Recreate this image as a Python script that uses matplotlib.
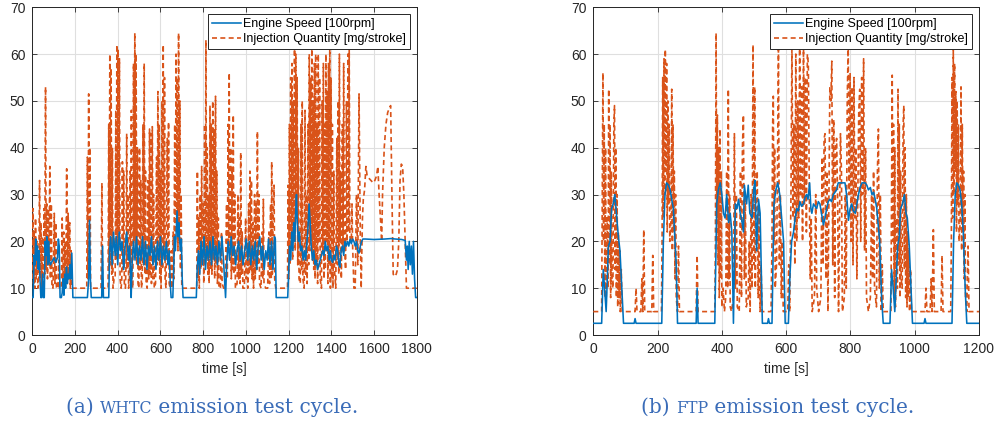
import matplotlib
matplotlib.use("Agg")
import matplotlib.pyplot as plt

# ---------------- data ----------------
whtc_speed = [
    (0, 8), (4, 8), (8, 17), (12, 15), (16, 20.5), (20, 16), (24, 19), (28, 14), (32, 18), (36, 12),
    (40, 8), (44, 8), (48, 13), (52, 8), (56, 8), (60, 20), (64, 17), (68, 21), (72, 15), (76, 20),
    (80, 16), (85, 15), (90, 15.5), (96, 16), (102, 16.5), (110, 15.5), (118, 16.5), (122, 20.5),
    (126, 19), (130, 8), (136, 8), (140, 9), (144, 12), (148, 8.5), (152, 13), (156, 10), (160, 14.5),
    (164, 11), (168, 13), (172, 12), (176, 15), (180, 12), (185, 17.5), (190, 8), (258, 8), (264, 12),
    (268, 24.5), (272, 12), (276, 8), (325, 8), (329, 19), (333, 8),
    (358, 8), (362, 18), (367, 21), (374, 15), (380, 22), (388, 17), (394, 21), (400, 15), (407, 22),
    (414, 18), (420, 20), (428, 14), (435, 19), (442, 22), (450, 16), (456, 19), (460, 12), (463, 8),
    (467, 15), (474, 20), (481, 16), (488, 21), (495, 15), (502, 19), (509, 16), (516, 21), (523, 15),
    (530, 20), (537, 14), (544, 19), (551, 17), (558, 21), (565, 15), (572, 19), (579, 14), (586, 20),
    (593, 16), (600, 21), (607, 15), (614, 19), (621, 16), (628, 20), (635, 15), (641, 18), (646, 11),
    (650, 8), (658, 8), (662, 14), (666, 21), (670, 18), (674, 22), (678, 26.5), (682, 21), (686, 24),
    (690, 20), (694, 18), (698, 20.5), (702, 12), (706, 8),
    (768, 8), (772, 14), (778, 18), (784, 13), (790, 20), (797, 15), (804, 21), (811, 14), (818, 19),
    (825, 16), (832, 20), (839, 15), (846, 21), (853, 16), (860, 19), (867, 15), (874, 20), (881, 16),
    (888, 21), (894, 17), (900, 12), (905, 8),
    (910, 15), (917, 20), (924, 16), (931, 21), (938, 17), (945, 19), (952, 15), (959, 18), (966, 20),
    (973, 16), (980, 19), (987, 15), (994, 18), (1002, 20.5), (1009, 16), (1016, 20), (1023, 15),
    (1030, 19), (1037, 16), (1044, 20), (1051, 14), (1058, 19), (1065, 21), (1072, 16), (1079, 19),
    (1086, 14), (1093, 18), (1100, 16), (1106, 20.5), (1113, 15), (1120, 20), (1127, 14), (1134, 21),
    (1138, 20.5), (1142, 8),
    (1196, 8), (1200, 13), (1205, 19), (1210, 16), (1215, 22), (1220, 18), (1224, 24), (1229, 20),
    (1233, 26), (1237, 30), (1241, 24), (1246, 20), (1251, 22), (1256, 18), (1262, 19), (1268, 16),
    (1274, 18), (1280, 16), (1286, 20), (1291, 23), (1296, 28), (1301, 24), (1306, 19), (1312, 16),
    (1318, 18), (1324, 15), (1330, 16), (1336, 14), (1342, 15), (1348, 16), (1354, 17), (1360, 18),
    (1366, 17), (1372, 20), (1378, 18), (1384, 19), (1390, 16), (1396, 18), (1400, 16), (1406, 15.5),
    (1412, 17), (1418, 16), (1424, 19), (1430, 18), (1436, 15), (1440, 14.5), (1446, 18), (1452, 19),
    (1458, 17), (1464, 20), (1470, 19), (1476, 20), (1482, 19), (1488, 20.5), (1494, 19.5), (1500, 20.5),
    (1506, 20), (1512, 19), (1518, 20), (1524, 18), (1530, 17.5), (1536, 19), (1542, 20), (1548, 20.5),
    (1560, 20.5), (1600, 20.4), (1650, 20.5), (1680, 20.6), (1700, 20.5), (1730, 20.4), (1746, 20.2),
    (1752, 16), (1756, 19), (1760, 14), (1765, 20), (1770, 15), (1775, 19), (1780, 13), (1785, 20),
    (1790, 12), (1795, 8), (1800, 8),
]

whtc_injection = [
    (0, 12), (3, 27), (6, 11), (9, 22), (12, 10), (15, 25), (18, 12), (22, 20), (26, 10), (30, 11),
    (34, 33), (37, 12), (41, 24), (44, 10), (48, 21), (51, 11), (55, 27), (58, 13), (62, 53),
    (65, 14), (68, 28), (71, 12), (75, 27), (78, 15), (82, 36), (85, 12), (89, 28), (92, 10), (97, 10),
    (103, 26), (106, 11), (110, 24), (113, 10), (120, 10), (124, 16), (127, 10),
    (136, 10), (140, 25), (143, 11), (147, 22), (150, 10), (154, 20), (157, 12), (161, 35.5),
    (164, 11), (168, 26), (171, 12), (175, 24), (178, 10), (182, 18), (185, 10), (255, 10),
    (258, 38), (261, 12), (264, 51.5), (267, 15), (270, 40), (273, 10), (322, 10), (326, 32.5), (329, 10),
    (355, 10), (358, 45), (360, 14), (363, 60), (366, 15), (369, 57), (372, 13), (375, 40), (378, 10),
    (383, 12), (388, 12), (391, 48), (393, 16), (396, 62), (399, 18), (402, 61), (405, 20), (408, 59),
    (411, 12), (416, 10), (419, 12), (422, 37), (425, 14), (428, 35), (431, 11), (436, 10), (439, 15),
    (442, 43), (445, 14), (448, 30), (451, 10), (455, 12), (458, 35), (461, 12), (464, 48), (467, 11),
    (471, 10), (474, 58), (477, 20), (480, 64.5), (483, 18), (486, 60), (489, 15), (492, 40), (495, 11),
    (499, 10), (502, 40), (505, 14), (508, 33), (511, 10), (515, 12), (518, 45), (521, 15), (524, 58),
    (527, 13), (530, 35), (533, 11), (538, 10), (542, 33), (545, 12), (549, 44), (552, 13), (555, 43),
    (558, 11), (562, 44.5), (565, 12), (568, 30), (571, 10), (577, 11), (582, 38), (585, 15), (588, 52),
    (591, 16), (594, 45), (597, 12), (600, 35), (603, 10), (607, 50), (610, 14), (613, 62), (616, 18),
    (619, 55), (622, 12), (626, 10), (632, 42), (635, 15), (638, 45.5), (641, 11), (646, 10), (651, 18),
    (654, 10), (660, 22), (663, 12), (667, 45), (670, 20), (673, 60), (676, 25), (679, 55), (682, 18),
    (685, 64.5), (688, 20), (691, 50), (694, 14), (697, 30), (700, 10), (770, 10),
    (773, 35), (776, 12), (779, 25), (782, 10), (786, 30), (789, 14), (793, 36), (796, 15), (800, 28),
    (803, 11), (807, 45), (810, 15), (813, 63), (816, 18), (819, 40), (822, 13), (825, 30), (828, 11),
    (832, 49), (835, 14), (838, 45), (841, 13), (845, 50), (848, 16), (851, 44), (854, 12), (858, 51),
    (861, 15), (864, 35), (867, 11), (871, 25), (874, 10), (881, 10), (886, 22), (889, 11),
    (896, 10), (903, 10), (910, 28), (913, 12), (917, 45), (920, 18), (922, 56),
    (925, 16), (929, 40), (932, 12), (936, 35), (939, 14), (941, 47), (944, 13), (948, 30), (951, 10),
    (959, 11), (963, 30), (966, 12), (970, 25), (973, 11), (976, 39), (979, 13), (983, 22),
    (986, 10), (993, 10), (999, 25), (1002, 12), (1006, 20), (1009, 10), (1013, 28),
    (1016, 13), (1019, 35), (1022, 14), (1026, 33), (1029, 12), (1033, 24), (1036, 10), (1041, 30),
    (1044, 12), (1048, 28), (1051, 14), (1054, 43.5), (1057, 15), (1061, 30), (1064, 11),
    (1071, 10), (1076, 22), (1079, 12), (1082, 29), (1085, 11), (1093, 10),
    (1102, 10), (1108, 22), (1111, 11), (1116, 28), (1119, 12), (1121, 37), (1124, 13), (1128, 25),
    (1132, 32), (1135, 12), (1140, 10), (1195, 10),
    (1198, 32), (1201, 12), (1204, 45), (1207, 15), (1210, 55), (1213, 20), (1216, 58), (1219, 16),
    (1222, 50), (1225, 22), (1228, 62), (1231, 18), (1234, 60), (1237, 25), (1240, 55), (1243, 15),
    (1246, 40), (1249, 12), (1255, 11), (1258, 45), (1261, 14), (1264, 50), (1267, 12),
    (1273, 10), (1277, 48), (1280, 13), (1284, 30), (1287, 11), (1291, 45), (1294, 15),
    (1297, 60), (1300, 18), (1303, 55), (1306, 20), (1309, 62), (1312, 16), (1315, 50), (1318, 14),
    (1321, 58), (1324, 12), (1327, 60), (1330, 15), (1333, 45), (1336, 11), (1339, 60), (1342, 20),
    (1345, 55), (1348, 12), (1354, 10), (1357, 50), (1360, 18), (1363, 58), (1366, 12),
    (1369, 45), (1372, 14), (1375, 60), (1378, 20), (1381, 52), (1384, 11), (1387, 58), (1390, 15),
    (1393, 62), (1396, 10), (1399, 55), (1402, 12), (1405, 45), (1408, 10), (1412, 35), (1415, 14),
    (1421, 10), (1426, 42), (1429, 15), (1432, 50), (1435, 13), (1438, 60), (1441, 20),
    (1444, 35), (1447, 12), (1452, 45), (1455, 18), (1458, 58), (1461, 22), (1467, 14),
    (1471, 50), (1474, 20), (1478, 60), (1481, 22), (1484, 61), (1487, 21), (1494, 20),
    (1497, 28), (1500, 19), (1506, 10), (1512, 10), (1518, 30), (1524, 15), (1530, 51.5), (1536, 20),
    (1540, 10), (1546, 25), (1550, 29), (1556, 31), (1562, 36), (1568, 34), (1576, 33.5), (1586, 33),
    (1596, 32.5), (1604, 33), (1612, 34), (1618, 36), (1624, 30), (1630, 25), (1636, 20), (1640, 30),
    (1648, 40), (1656, 45), (1664, 47.5), (1672, 48.5), (1678, 49), (1684, 30), (1690, 13),
    (1696, 12.5), (1704, 13), (1710, 14), (1716, 20), (1722, 33), (1728, 36.5), (1734, 36), (1740, 30),
    (1746, 20), (1752, 10), (1800, 10),
]

ftp_speed = [
    (0, 2.5), (26, 2.5), (31, 14), (37, 8), (40, 5), (47, 19), (52, 20), (57, 27), (62, 28), (67, 30),
    (73, 25), (78, 21), (83, 18), (88, 11), (94, 2.5), (127, 2.5), (130, 3.5), (133, 2.5), (213, 2.5),
    (218, 20), (223, 30), (228, 32.5), (234, 32), (239, 31), (244, 29), (249, 27), (258, 15), (262, 2.5),
    (320, 2.5), (323, 10), (326, 2.5), (378, 2.5), (384, 28), (389, 31), (395, 32.5), (400, 30),
    (405, 26), (410, 25), (415, 30), (421, 24), (426, 26), (431, 22), (436, 2.5), (442, 28), (447, 27),
    (452, 29), (457, 26), (462, 24.5), (467, 22), (470, 32), (477, 28), (482, 32), (487, 26), (494, 25),
    (499, 31), (503, 33), (508, 18), (514, 29), (519, 26), (522, 16), (526, 2.5), (542, 2.5),
    (545, 3.5), (548, 2.5), (556, 2.5), (562, 28), (568, 31), (574, 32.5), (580, 30), (586, 25),
    (592, 20), (597, 2.5), (607, 2.5), (612, 13), (617, 20), (623, 22), (628, 25), (633, 27),
    (638, 26.5), (643, 28.5), (648, 27.5), (654, 28), (659, 29.5), (664, 30), (668, 29), (673, 32.5),
    (677, 27), (680, 26), (685, 28), (690, 27.5), (695, 27), (700, 28.5), (705, 28), (710, 26),
    (716, 23.5), (721, 25), (726, 27), (731, 28.5), (736, 29), (741, 28.5), (747, 30), (752, 30.5),
    (757, 31), (762, 32.5), (770, 32.5), (783, 32.5), (788, 30), (794, 24.5), (799, 27), (804, 28),
    (809, 26.5), (815, 26), (820, 28), (825, 30), (830, 31.5), (836, 32.5), (846, 32.5), (851, 32),
    (856, 31), (862, 31.5), (867, 30), (872, 30.5), (877, 29), (882, 27), (886, 24), (891, 20),
    (897, 8), (902, 2.5), (923, 2.5), (928, 14), (933, 10), (938, 5), (947, 19), (952, 21), (956, 27),
    (962, 28), (968, 30), (973, 26), (977, 25), (983, 19), (988, 11), (993, 2.5), (1029, 2.5),
    (1032, 3.5), (1035, 2.5), (1116, 2.5), (1121, 20), (1126, 30), (1131, 32.5), (1136, 32),
    (1141, 31), (1146, 28), (1151, 22), (1157, 10), (1162, 2.5), (1200, 2.5),
]

ftp_injection = [
    (0, 5), (26, 5), (28, 30), (30, 56), (32, 20), (34, 45), (36, 8), (38, 40), (40, 6), (43, 25),
    (46, 10), (48, 52.5), (50, 15), (52, 45), (54, 8), (56, 35), (58, 12), (61, 10),
    (64, 45), (66, 49), (68, 14), (70, 40), (72, 8), (74, 30), (76, 6), (78, 22), (80, 8), (82, 18),
    (84, 5), (87, 14), (90, 5), (130, 5), (133, 10), (136, 5), (148, 5), (151, 12),
    (154, 5), (157, 22.5), (160, 5), (182, 5), (185, 17), (188, 5), (212, 5),
    (214, 20), (216, 55), (218, 25), (220, 59), (222, 30), (224, 61), (226, 35), (228, 58), (230, 22),
    (232, 50), (234, 28), (236, 45), (238, 20), (242, 25), (244, 52.5), (246, 18), (248, 45),
    (250, 22), (252, 35), (254, 12), (256, 30), (258, 8), (262, 5), (265, 19), (268, 5),
    (320, 5), (323, 17), (326, 5), (378, 5),
    (380, 20), (382, 64.5), (384, 25), (386, 47), (388, 15), (390, 40), (392, 8), (394, 44), (396, 12),
    (398, 35), (400, 6), (404, 10), (408, 5), (412, 8), (415, 35),
    (418, 10), (420, 52.5), (422, 12), (424, 30), (426, 6), (430, 5), (436, 8),
    (439, 43), (442, 10), (445, 30), (448, 6), (454, 5), (458, 35), (461, 8), (464, 40),
    (467, 47), (470, 12), (473, 30), (476, 6), (482, 8), (485, 20), (488, 5), (491, 30),
    (494, 10), (497, 62), (500, 15), (502, 53), (504, 10), (507, 30), (510, 35), (513, 8), (516, 27),
    (519, 5), (522, 15), (525, 5), (553, 5),
    (556, 20), (558, 45), (560, 51), (562, 20), (564, 40), (566, 10), (570, 15), (573, 35),
    (576, 61), (579, 15), (582, 30), (585, 8), (588, 20), (591, 5), (605, 5),
    (608, 15), (611, 5), (615, 30), (618, 62), (621, 25), (624, 45), (627, 15), (630, 60), (633, 20),
    (636, 50), (639, 25), (642, 63), (645, 30), (648, 53), (651, 20), (654, 62), (657, 28), (660, 55),
    (663, 22), (666, 60), (669, 58), (672, 31), (675, 12), (678, 25), (681, 5), (688, 8),
    (692, 30), (695, 10), (701, 5), (708, 8), (712, 38), (715, 15), (718, 42),
    (721, 43), (724, 12), (727, 35), (730, 5), (736, 53), (739, 50), (742, 58.5), (745, 15),
    (748, 46), (751, 8), (754, 40), (757, 42), (760, 30), (763, 5), (769, 43), (772, 35),
    (775, 5), (781, 8), (784, 30), (787, 10), (790, 50), (793, 62), (796, 30), (799, 56),
    (802, 20), (805, 53), (808, 15), (811, 55), (814, 25), (817, 40), (820, 12), (826, 48),
    (829, 52.5), (832, 20), (835, 55), (838, 30), (841, 59), (844, 18), (847, 40), (850, 8),
    (856, 5), (862, 8), (866, 30), (869, 12), (872, 35), (875, 10), (881, 6),
    (884, 35), (887, 44), (890, 10), (893, 30), (896, 5), (899, 15), (902, 5), (926, 5),
    (928, 30), (930, 55.5), (932, 20), (934, 45), (936, 8), (938, 40), (940, 6), (943, 25),
    (946, 10), (948, 52.5), (950, 15), (952, 45), (954, 8), (956, 35), (958, 12), (961, 10),
    (964, 45), (966, 49), (968, 14), (970, 40), (972, 8), (974, 30), (976, 6), (978, 22), (980, 8),
    (982, 18), (984, 5), (987, 14), (990, 5), (1032, 5), (1035, 10), (1038, 5),
    (1048, 5), (1051, 12), (1054, 5), (1058, 22.5), (1061, 5), (1082, 5), (1085, 17), (1088, 5),
    (1112, 5), (1114, 20), (1116, 55), (1118, 25), (1120, 61), (1122, 30), (1124, 58), (1126, 35),
    (1128, 52), (1130, 22), (1132, 50), (1134, 28), (1136, 45), (1138, 20), (1142, 25),
    (1144, 53), (1146, 18), (1148, 45), (1150, 22), (1152, 35), (1154, 12), (1156, 30), (1158, 8),
    (1162, 5), (1166, 19), (1169, 5), (1200, 5),
]

series_labels = ["Engine Speed [100rpm]", "Injection Quantity [mg/stroke]"]
x_label = "time [s]"
whtc_xticks = [0, 200, 400, 600, 800, 1000, 1200, 1400, 1600, 1800]
ftp_xticks = [0, 200, 400, 600, 800, 1000, 1200]
y_ticks = [0, 10, 20, 30, 40, 50, 60, 70]
captions = [("(a) ", "whtc", " emission test cycle."), ("(b) ", "ftp", " emission test cycle.")]

# ---------------- style ----------------
BLUE = "#0072BD"
ORANGE = "#D95319"
AX_COLOR = "#262626"
GRID_COLOR = "#dfdfdf"
CAP_COLOR = "#3a6cb8"
SANS = ["Liberation Sans", "DejaVu Sans"]
SERIF = ["DejaVu Serif"]

plt.rcParams["font.family"] = SANS

fig = plt.figure(figsize=(10.03, 4.23), dpi=100)
ax1 = fig.add_axes([32.3 / 1003, 88 / 423, 384.4 / 1003, 327.7 / 423])
ax2 = fig.add_axes([593.3 / 1003, 88 / 423, 385.7 / 1003, 327.7 / 423])


def unzip(pairs):
    return [p[0] for p in pairs], [p[1] for p in pairs]


def style_axes(ax, xmax, xticks):
    ax.set_xlim(0, xmax)
    ax.set_ylim(0, 70)
    ax.set_xticks(xticks)
    ax.set_yticks(y_ticks)
    ax.grid(True, color=GRID_COLOR, linewidth=0.8, zorder=0)
    ax.set_axisbelow(True)
    ax.tick_params(direction="in", top=True, right=True, length=3.5, width=0.6,
                   colors=AX_COLOR, labelsize=10, pad=5)
    for s in ax.spines.values():
        s.set_color(AX_COLOR)
        s.set_linewidth(0.7)
    ax.set_xlabel(x_label, fontsize=10, color=AX_COLOR, labelpad=4)


for ax, sp, inj, xmax, xt in [(ax1, whtc_speed, whtc_injection, 1800, whtc_xticks),
                              (ax2, ftp_speed, ftp_injection, 1200, ftp_xticks)]:
    st, sv = unzip(sp)
    it, iv = unzip(inj)
    ax.plot(st, sv, color=BLUE, lw=1.15, label=series_labels[0], zorder=5)
    ax.plot(it, iv, color=ORANGE, lw=1.2, linestyle=(0, (3.0, 2.0)), label=series_labels[1], zorder=4)
    style_axes(ax, xmax, xt)
    leg = ax.legend(loc="upper right", fontsize=9, handlelength=2.3, handletextpad=0.2,
                    borderpad=0.3, labelspacing=0.25, borderaxespad=0.55, fancybox=False,
                    framealpha=1.0, edgecolor=AX_COLOR)
    leg.get_frame().set_linewidth(0.7)
    leg.set_zorder(10)

# ---------------- captions with small caps ----------------
fig.canvas.draw()
renderer = fig.canvas.get_renderer()


def caption(center_px, y_px, parts, size=14.5):
    pre, sc, post = parts
    pieces = [(pre, size), (sc.upper(), size * 0.78), (post, size)]
    texts = []
    for txt, fs in pieces:
        t = fig.text(0, 1 - y_px / 423, txt, fontsize=fs, family=SERIF, color=CAP_COLOR,
                     va="baseline", ha="left")
        texts.append(t)
    widths = [t.get_window_extent(renderer).width for t in texts]
    total = sum(widths)
    x = center_px - total / 2
    for t, w in zip(texts, widths):
        t.set_x(x / 1003)
        x += w


caption(212, 413, captions[0])
caption(778, 413, captions[1])

fig.savefig("out.png", dpi=100)
